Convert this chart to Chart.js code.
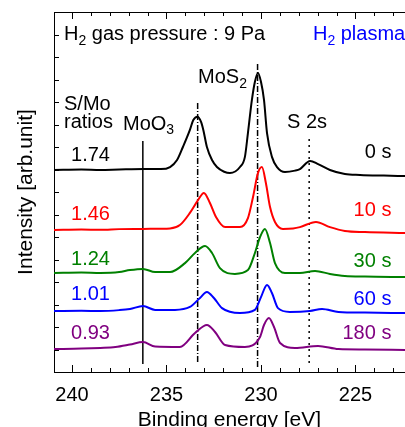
<!DOCTYPE html>
<html lang="en">
<head>
    <meta charset="UTF-8">
    <title>H2 plasma XPS spectra</title>
    <style>
        body {
            margin: 0;
            background: #fff;
        }
        #chart {
            display: block;
        }
    </style>
</head>
<body>
    <canvas id="chart" width="405" height="427"></canvas>

    <script src="https://cdn.jsdelivr.net/npm/chart.js"></script>
    <script>
        // spectra (binding energy in eV, intensity offset in arb. units)
        const energy0s = [240.95, 239.5, 238.5, 237.5, 236.2, 235.3, 234.81, 234.44, 234.13, 233.76, 233.58, 233.36, 233.17, 233.05, 232.86, 232.59, 232.33, 231.95, 231.64, 231.11, 230.85, 230.69, 230.48, 230.32, 230.16, 230.0, 229.84, 229.68, 229.42, 229.15, 228.73, 228.2, 227.94, 227.4, 226.98, 226.35, 225.56, 224.76, 223.5, 222.38];
        const intensity0s = [8.98, 9.0, 8.98, 9.0, 9.02, 9.02, 9.11, 9.42, 10.0, 10.76, 11.2, 11.35, 11.12, 10.76, 10.0, 9.42, 9.11, 8.9, 8.84, 9.11, 9.56, 10.62, 12.09, 12.9, 13.29, 12.9, 12.09, 10.62, 9.56, 9.11, 8.89, 8.95, 9.02, 9.38, 9.24, 8.98, 8.8, 8.76, 8.73, 8.71];

        const energy10s = [240.95, 239.5, 238.5, 237.5, 236.24, 235.3, 234.81, 234.29, 233.76, 233.33, 233.02, 232.7, 232.38, 231.9, 231.11, 230.69, 230.42, 230.16, 229.95, 229.74, 229.52, 229.26, 228.84, 228.3, 227.94, 227.09, 226.35, 225.56, 224.5, 222.38];
        const intensity10s = [6.31, 6.33, 6.32, 6.35, 6.36, 6.37, 6.38, 6.53, 7.07, 7.64, 7.96, 7.51, 6.89, 6.44, 6.44, 6.84, 7.78, 8.84, 9.11, 8.4, 7.33, 6.67, 6.36, 6.38, 6.44, 6.67, 6.44, 6.27, 6.22, 6.18];

        const energy30s = [240.95, 239.5, 238.5, 237.5, 236.93, 236.24, 235.6, 234.81, 234.02, 233.49, 232.96, 232.59, 232.17, 231.38, 230.69, 230.32, 230.05, 229.79, 229.52, 229.26, 228.73, 227.94, 227.14, 226.35, 225.56, 224.5, 222.38];
        const intensity30s = [4.4, 4.42, 4.4, 4.44, 4.53, 4.58, 4.44, 4.44, 4.84, 5.29, 5.6, 5.29, 4.62, 4.36, 4.53, 5.29, 6.0, 6.36, 5.73, 4.84, 4.4, 4.4, 4.49, 4.36, 4.27, 4.24, 4.22];

        const energy60s = [240.95, 239.5, 238.5, 237.5, 236.93, 236.24, 235.6, 234.55, 233.76, 233.23, 232.86, 232.49, 232.06, 231.11, 230.32, 230.0, 229.68, 229.42, 229.1, 228.47, 227.41, 226.77, 225.9, 224.5, 222.38];
        const intensity60s = [2.71, 2.72, 2.71, 2.75, 2.8, 2.93, 2.76, 2.76, 2.89, 3.29, 3.56, 3.29, 2.84, 2.62, 2.76, 3.33, 3.87, 3.51, 2.84, 2.67, 2.71, 2.8, 2.67, 2.64, 2.62];

        const energy180s = [240.95, 239.5, 238.5, 237.7, 236.93, 236.24, 235.6, 234.29, 233.49, 232.86, 232.43, 231.9, 230.85, 230.05, 229.84, 229.58, 229.31, 228.99, 228.2, 226.98, 225.9, 224.5, 222.38];
        const intensity180s = [1.02, 1.04, 1.07, 1.11, 1.22, 1.33, 1.13, 1.11, 1.73, 2.09, 1.78, 1.2, 1.11, 1.56, 2.09, 2.4, 2.0, 1.29, 1.07, 1.16, 1.02, 1.0, 0.98];

        const seriesNames = ['0 s', '10 s', '30 s', '60 s', '180 s'];
        const smRatios = ['1.74', '1.46', '1.24', '1.01', '0.93'];

        // reference lines: MoO3, MoS2 (two), S 2s
        const refEnergies = [236.25, 233.35, 230.18, 227.45];
        const refBottoms = [0.36, 0.44, 0.22, 0.4];
        const refTops = [10.27, 11.96, 13.78, 10.49];

        const xTickValues = [240, 235, 230, 225];

        const colors = ['#000000', '#ff0000', '#008000', '#0000ff', '#800080'];
        const refDash = [[], [6, 2, 1, 2], [6, 2, 1, 2], [2, 4]];
        const FONT = '"Liberation Sans", Arial, sans-serif';

        const energies = [energy0s, energy10s, energy30s, energy60s, energy180s];
        const intensities = [intensity0s, intensity10s, intensity30s, intensity60s, intensity180s];

        const datasets = [];
        seriesNames.forEach((name, i) => {
            datasets.push({
                label: name,
                data: energies[i].map((e, j) => ({ x: e, y: intensities[i][j] })),
                borderColor: colors[i],
                borderWidth: 2,
                pointRadius: 0,
                cubicInterpolationMode: 'monotone',
                fill: false
            });
        });
        refEnergies.forEach((e, i) => {
            datasets.push({
                label: 'ref' + i,
                data: [{ x: e, y: refBottoms[i] }, { x: e, y: refTops[i] }],
                borderColor: '#000',
                borderWidth: 1.5,
                borderDash: refDash[i],
                pointRadius: 0,
                fill: false
            });
        });

        // text labels, placed in data coordinates (eV, intensity)
        const leftLabels = [
            { text: 'S/Mo', x: 240.42, y: 11.87, color: '#000' },
            { text: 'ratios', x: 240.42, y: 11.07, color: '#000' },
            { text: 'S 2s', x: 228.62, y: 11.11, color: '#000' }
        ];
        const ratioY = [9.62, 7.02, 5.02, 3.44, 1.71];
        const timeY = [9.76, 7.16, 4.89, 3.24, 1.73];

        const labelsPlugin = {
            id: 'labels',
            afterDraw(chart) {
                const ctx = chart.ctx;
                const xs = chart.scales.x;
                const ys = chart.scales.y;
                const area = chart.chartArea;
                ctx.save();

                // top border + ticks pointing inward
                ctx.strokeStyle = '#000';
                ctx.lineWidth = 1;
                ctx.beginPath();
                ctx.moveTo(area.left, area.top + 0.5);
                ctx.lineTo(area.right, area.top + 0.5);
                for (let v = Math.ceil(xs.min); v <= Math.floor(xs.max); v++) {
                    const px = Math.round(xs.getPixelForValue(v)) + 0.5;
                    const len = v % 5 === 0 ? 7 : 4;
                    ctx.moveTo(px, area.bottom);
                    ctx.lineTo(px, area.bottom - len);
                    ctx.moveTo(px, area.top);
                    ctx.lineTo(px, area.top + len);
                }
                for (let v = 1; v < ys.max; v++) {
                    const py = Math.round(ys.getPixelForValue(v)) + 0.5;
                    ctx.moveTo(area.left, py);
                    ctx.lineTo(area.left + 5, py);
                }
                ctx.stroke();

                function withSub(parts, x, y, color, align) {
                    ctx.fillStyle = color;
                    ctx.textBaseline = 'middle';
                    ctx.textAlign = 'left';
                    let w = 0;
                    parts.forEach(p => {
                        ctx.font = (p.sub ? '14px ' : '20px ') + FONT;
                        w += ctx.measureText(p.t).width;
                    });
                    let cx = align === 'right' ? x - w : x;
                    parts.forEach(p => {
                        ctx.font = (p.sub ? '14px ' : '20px ') + FONT;
                        ctx.fillText(p.t, cx, p.sub ? y + 6 : y);
                        cx += ctx.measureText(p.t).width;
                    });
                }

                const X = v => xs.getPixelForValue(v);
                const Y = v => ys.getPixelForValue(v);

                withSub([{ t: 'H' }, { t: '2', sub: true }, { t: ' gas pressure : 9 Pa' }], X(240.42), Y(14.98), '#000');
                withSub([{ t: 'H' }, { t: '2', sub: true }, { t: ' plasma' }], X(227.25), Y(14.98), '#0000ff');
                withSub([{ t: 'MoS' }, { t: '2', sub: true }], X(233.33), Y(13.07), '#000');
                withSub([{ t: 'MoO' }, { t: '3', sub: true }], X(237.3), Y(11.02), '#000');

                leftLabels.forEach(l => withSub([{ t: l.text }], X(l.x), Y(l.y), l.color));
                smRatios.forEach((r, i) => withSub([{ t: r }], X(240.05), Y(ratioY[i]), colors[i]));
                seriesNames.forEach((n, i) => withSub([{ t: n }], X(223.1), Y(timeY[i]), colors[i], 'right'));

                ctx.restore();
            }
        };

        const chart = new Chart(document.getElementById('chart'), {
            type: 'line',
            data: { datasets: datasets },
            options: {
                responsive: false,
                animation: false,
                layout: { padding: { top: 12, right: 0, left: 0, bottom: 0 } },
                plugins: {
                    legend: { display: false },
                    tooltip: { enabled: false }
                },
                scales: {
                    x: {
                        type: 'linear',
                        reverse: true,
                        min: 222.38,
                        max: 240.95,
                        afterBuildTicks: scale => {
                            scale.ticks = xTickValues.map(v => ({ value: v }));
                        },
                        afterFit: scale => { scale.height = 55; },
                        grid: { display: false },
                        border: { display: true, color: '#000', width: 1 },
                        ticks: {
                            color: '#000',
                            font: { family: FONT, size: 20 },
                            padding: 3,
                            maxRotation: 0,
                            autoSkip: false
                        },
                        title: {
                            display: true,
                            text: 'Binding energy [eV]',
                            color: '#000',
                            font: { family: FONT, size: 21, lineHeight: 0.6 },
                            padding: 0
                        }
                    },
                    y: {
                        min: 0,
                        max: 16,
                        afterFit: scale => { scale.width = 54; },
                        grid: { display: false },
                        border: { display: true, color: '#000', width: 1 },
                        ticks: { display: false },
                        title: {
                            display: true,
                            text: 'Intensity [arb.unit]',
                            color: '#000',
                            font: { family: FONT, size: 21, lineHeight: 1 },
                            padding: { top: 16, bottom: 0 }
                        }
                    }
                }
            },
            plugins: [labelsPlugin]
        });
    </script>
</body>
</html>
